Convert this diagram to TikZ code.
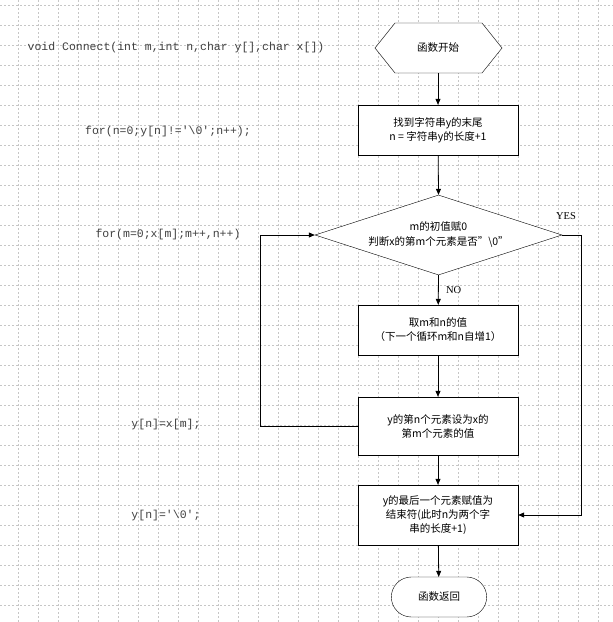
\documentclass[tikz,border=0pt]{standalone}
\usepackage{fontspec}
\setmainfont{Liberation Serif}
\newfontfamily\cjk{Noto Sans CJK SC}
\newfontfamily\codefont{Liberation Mono}
\usetikzlibrary{shapes.geometric,shapes.misc,arrows.meta}
\tikzset{
  procbox/.style={draw, minimum width=160pt, minimum height=50pt, align=center, font=\cjk\fontsize{10.5}{14}\selectfont},
  codetext/.style={font=\codefont\fontsize{11.5}{13}\selectfont, text=black!75},
  flow/.style={-{Triangle[length=6pt,width=5pt]}, thick}
}
\begin{document}
\begin{tikzpicture}[x=1pt,y=-1pt]
  \useasboundingbox (0,0) rectangle (613,622);
  % grid
  \foreach \gx in {18,38,...,610} \draw[gray!45, dash pattern=on 2pt off 2pt, line width=0.3pt] (\gx,0) -- (\gx,622);
  \foreach \gy in {5,25,...,620} \draw[gray!45, dash pattern=on 2pt off 2pt, line width=0.3pt] (0,\gy) -- (613,\gy);
  % shapes
  \draw[fill=white] (375,48) -- (395,23) -- (482,23) -- (502,48) -- (482,73) -- (395,73) -- cycle;
  \node[font=\cjk\fontsize{10.5}{14}\selectfont, minimum width=127pt, minimum height=50pt] (start) at (438,48) {函数开始};
  \node[procbox, fill=white] (find) at (438,130) {找到字符串y的末尾\\n = 字符串y的长度+1};
  \node[draw, diamond, fill=white, minimum width=247pt, minimum height=80pt, inner sep=0pt] (cond) at (438.5,235) {};
  \node[font=\cjk\fontsize{10.5}{15}\selectfont, align=center] (condtxt) at (438.5,235) {m的初值赋0\\判断x的第m个元素是否”\textbackslash0”};
  \node[procbox, fill=white] (take) at (438,330) {取m和n的值\\（下一个循环m和n自增1）};
  \node[procbox, fill=white, minimum height=58pt] (copy) at (438,426) {y的第n个元素设为x的\\第m个元素的值};
  \node[procbox, fill=white, minimum height=60pt] (term) at (438,515) {y的最后一个元素赋值为\\结束符(此时n为两个字\\串的长度+1)};
  \node[draw, fill=white, rounded rectangle, minimum width=102pt, minimum height=40pt, font=\cjk\fontsize{10.5}{14}\selectfont] (ret) at (439,597) {函数返回};
  % connectors
  \draw[flow] (start) -- (find);
  \draw[flow] (find) -- (cond.north);
  \draw[flow] (cond.south) -- node[right, font=\fontsize{10.5}{12}\selectfont, xshift=4pt] {NO} (take);
  \draw[flow] (take) -- (copy);
  \draw[flow] (copy) -- (term);
  \draw[flow] (term) -- (ret);
  \draw[flow] (copy.west) -- (260,426) -- (260,235) -- (cond.west);
  \draw[flow] (cond.east) -- (581,235) -- (581,515) -- (term.east);
  \node[font=\fontsize{10.5}{12}\selectfont] (yes) at (566,216) {YES};
  % code
  \node[codetext] (sig) at (176,48) {void Connect(int m,int n,char y[],char x[])};
  \node[codetext] (loopn) at (168,132) {for(n=0;y[n]!='\textbackslash0';n++);};
  \node[codetext] (loopm) at (168,235) {for(m=0;x[m];m++,n++)};
  \node[codetext] (assign) at (166,425) {y[n]=x[m];};
  \node[codetext] (endc) at (166,516) {y[n]='\textbackslash0';};
\end{tikzpicture}
\end{document}
